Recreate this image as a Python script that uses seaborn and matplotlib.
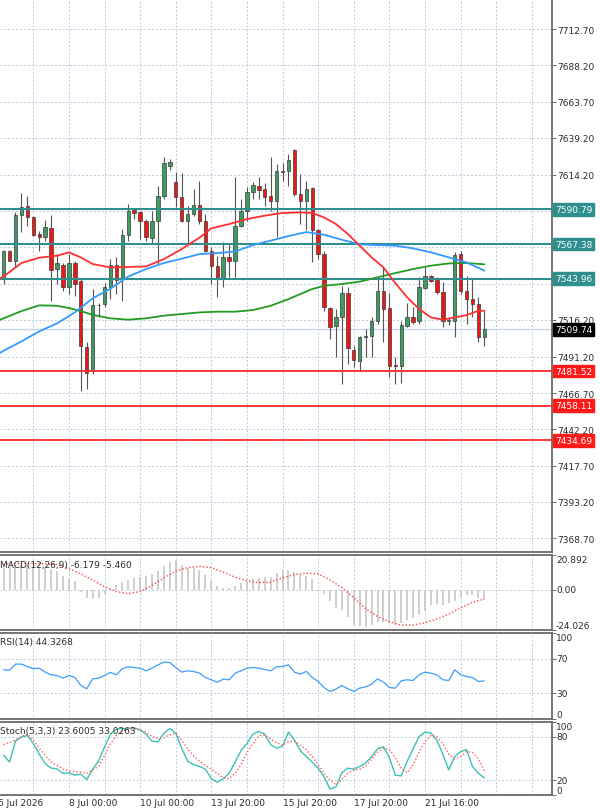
import numpy as np
import seaborn as sns
import matplotlib.pyplot as plt
from matplotlib.transforms import blended_transform_factory

sns.set_style('white')
plt.rcParams['font.family'] = ['DejaVu Sans']

# ---- candle data (4h bars, index 0 = first visible bar) ----
open_ = [7544.4, 7562.9, 7556.1, 7587.2, 7593.3, 7585.9, 7574.2, 7571.9, 7578.2, 7550.5,
         7553.4, 7538.6, 7554.3, 7542.2, 7498.0, 7481.8, 7526.0, 7526.9, 7538.6, 7553.0,
         7543.8, 7573.7, 7590.4, 7588.8, 7583.2, 7571.5, 7583.2, 7600.1, 7620.4, 7609.5,
         7599.0, 7582.7, 7587.7, 7594.0, 7582.7, 7562.4, 7552.8, 7543.8, 7558.4, 7555.7,
         7579.8, 7589.9, 7602.3, 7606.8, 7604.6, 7600.1, 7596.2, 7617.0, 7616.5, 7630.9,
         7601.2, 7596.7, 7605.3, 7576.9, 7560.6, 7524.2, 7512.2, 7518.3, 7534.1, 7496.0,
         7488.6, 7504.3, 7505.5, 7515.6, 7535.4, 7523.9, 7485.6, 7484.7, 7512.2, 7517.8,
         7515.1, 7537.7, 7545.6, 7543.1, 7535.2, 7515.6, 7515.6, 7560.6, 7535.9, 7530.2,
         7526.9, 7504.8]
high = [7563.3, 7563.3, 7588.8, 7601.9, 7600.1, 7586.6, 7576.4, 7583.6, 7587.2, 7560.6,
        7554.3, 7560.6, 7556.1, 7543.8, 7500.9, 7536.8, 7527.8, 7540.8, 7557.3, 7558.4,
        7577.5, 7594.4, 7591.1, 7589.9, 7584.3, 7589.9, 7606.8, 7626.4, 7624.9, 7615.8,
        7615.2, 7593.3, 7604.6, 7610.2, 7587.7, 7565.2, 7559.5, 7568.5, 7567.4, 7612.5,
        7597.8, 7606.0, 7609.1, 7612.9, 7608.4, 7626.0, 7621.5, 7621.9, 7628.2, 7631.8,
        7614.7, 7610.2, 7606.2, 7577.5, 7562.9, 7524.6, 7523.5, 7539.2, 7538.1, 7498.7,
        7505.5, 7510.0, 7517.8, 7543.8, 7551.6, 7534.1, 7490.8, 7515.6, 7527.3, 7524.6,
        7544.9, 7552.1, 7546.7, 7544.9, 7541.5, 7518.0, 7561.8, 7562.4, 7546.0, 7543.8,
        7531.8, 7522.4]
low = [7540.4, 7555.7, 7551.6, 7575.3, 7579.8, 7573.0, 7562.9, 7569.7, 7529.1, 7540.4,
       7535.9, 7533.6, 7532.5, 7468.3, 7469.4, 7479.5, 7517.8, 7524.6, 7530.2, 7533.6,
       7529.1, 7569.7, 7584.3, 7570.8, 7569.2, 7567.4, 7553.9, 7597.8, 7617.4, 7592.4,
       7582.0, 7567.4, 7586.6, 7580.9, 7561.8, 7540.4, 7531.4, 7538.1, 7544.9, 7544.9,
       7578.7, 7583.0, 7597.8, 7597.8, 7593.3, 7589.9, 7571.9, 7610.2, 7606.8, 7600.1,
       7580.9, 7576.9, 7555.0, 7557.3, 7522.4, 7503.2, 7490.8, 7472.8, 7486.3, 7484.5,
       7481.8, 7490.8, 7490.8, 7513.3, 7500.9, 7477.3, 7472.8, 7473.2, 7511.1, 7513.3,
       7513.3, 7537.0, 7541.5, 7533.6, 7511.1, 7513.0, 7504.8, 7533.6, 7513.3, 7517.8,
       7500.9, 7498.7]
close = [7562.4, 7556.1, 7587.2, 7592.2, 7585.9, 7573.7, 7571.9, 7579.1, 7550.1, 7554.3,
         7538.1, 7554.3, 7540.4, 7498.7, 7480.4, 7526.4, 7526.4, 7538.6, 7553.4, 7543.1,
         7573.7, 7589.9, 7588.6, 7582.7, 7571.9, 7582.7, 7600.1, 7621.9, 7622.6, 7599.0,
         7582.7, 7587.7, 7594.0, 7582.7, 7562.9, 7552.8, 7543.8, 7558.8, 7555.7, 7579.8,
         7589.9, 7602.3, 7607.5, 7603.9, 7599.4, 7596.2, 7617.0, 7615.8, 7624.2, 7601.2,
         7596.7, 7604.6, 7576.9, 7560.6, 7524.6, 7511.1, 7518.3, 7534.1, 7497.1, 7489.0,
         7504.3, 7505.5, 7515.6, 7535.4, 7523.5, 7485.2, 7484.7, 7512.7, 7517.8, 7514.5,
         7538.1, 7545.6, 7542.6, 7534.7, 7515.6, 7516.0, 7560.0, 7535.9, 7530.2, 7526.9,
         7504.3, 7509.74]

# ---- moving averages ----
ma_red_bars = [-1, 0, 3, 6, 9, 11, 13, 15, 18, 21, 24, 27, 30, 33, 35, 38, 41, 44, 47, 50,
               52, 54, 56, 58, 60, 62, 64, 66, 68, 70, 72, 74, 76, 78, 80, 81]
ma_red = [7543.5, 7545.5, 7554.6, 7558.2, 7559.5, 7561.8, 7558.4, 7553.9, 7551.6, 7551.9,
          7552.3, 7557.2, 7564.0, 7571.7, 7578.0, 7580.9, 7584.3, 7586.6, 7588.4, 7588.8,
          7588.4, 7585.4, 7580.9, 7574.2, 7566.3, 7558.4, 7551.6, 7541.0, 7531.4, 7523.5,
          7517.8, 7516.3, 7517.8, 7519.4, 7522.3, 7522.3]
ma_blue_bars = [-1, 0, 3, 6, 9, 12, 15, 18, 21, 24, 27, 30, 33, 36, 39, 42, 45, 48, 51, 54,
                57, 60, 63, 66, 69, 72, 75, 78, 81]
ma_blue = [7493.0, 7495.3, 7501.6, 7508.4, 7513.8, 7521.2, 7530.7, 7537.2, 7545.5, 7550.5,
           7554.6, 7557.5, 7560.6, 7561.3, 7562.4, 7566.7, 7569.7, 7572.8, 7575.5, 7573.7,
           7570.3, 7567.2, 7566.7, 7566.3, 7564.5, 7561.8, 7558.4, 7555.0, 7549.4]
ma_green_bars = [-1, 0, 3, 6, 9, 11, 13, 15, 18, 21, 24, 27, 30, 33, 36, 39, 42, 45, 48, 50,
                 52, 54, 57, 60, 63, 66, 69, 72, 75, 78, 81]
ma_green = [7515.6, 7517.2, 7522.1, 7526.0, 7525.7, 7524.2, 7522.1, 7519.6, 7517.2, 7516.3,
            7517.2, 7519.0, 7520.1, 7521.2, 7521.7, 7521.7, 7522.8, 7525.7, 7530.2, 7533.6,
            7537.0, 7539.2, 7540.4, 7542.0, 7544.9, 7547.8, 7550.5, 7552.8, 7554.3, 7554.6,
            7553.7]

# ---- horizontal levels ----
resistance = [7590.79, 7567.38, 7543.96]
support = [7481.52, 7458.11, 7434.69]
last_price = 7509.74
price_ticks = [7712.70, 7688.20, 7663.70, 7639.20, 7614.20, 7589.70, 7565.20, 7540.70,
               7516.20, 7491.20, 7466.70, 7442.20, 7417.70, 7393.20, 7368.70]
# tick labels that sit under a level box are not printed
hidden_ticks = [7589.70, 7565.20, 7540.70]

# ---- MACD(12,26,9) ----
macd_hist = [13.7, 13.7, 14.8, 14.8, 14.8, 14.0, 13.7, 13.3, 12.7, 11.3,
             8.6, 6.6, 5.1, -1.5, -4.7, -5.7, -5.1, -2.7, 1.4, 3.1,
             4.5, 5.9, 7.2, 8.0, 8.6, 9.6, 11.3, 14.1, 16.8, 17.8,
             14.8, 13.3, 13.3, 12.1, 9.2, 5.5, 2.5, 1.4, 1.0, 2.5,
             3.9, 5.5, 6.6, 7.2, 7.6, 8.0, 10.0, 12.1, 12.1, 10.7,
             9.2, 8.6, 6.6, -0.5, -2.3, -6.8, -10.9, -11.9, -16.0, -21.1,
             -21.7, -22.1, -21.1, -19.1, -19.1, -20.1, -21.1, -20.1, -18.0, -17.0,
             -15.0, -12.9, -8.8, -8.4, -8.8, -7.8, -6.8, -4.3, -3.1, -3.1,
             -4.7, -6.179]
macd_sig_bars = [0, 3, 6, 9, 11, 13, 15, 17, 19, 21, 23, 25, 27, 29, 31, 33, 35, 37, 39, 41,
                 43, 45, 47, 49, 51, 53, 55, 57, 59, 61, 63, 65, 67, 69, 71, 73, 75, 77, 79, 81]
macd_sig = [15.4, 15.8, 15.8, 15.2, 12.7, 9.6, 5.9, 1.8, -1.0, -2.3, -1.0, 2.5, 7.2, 11.3,
            13.3, 14.1, 13.3, 10.7, 7.6, 5.5, 4.3, 4.7, 7.2, 9.2, 10.0, 9.6, 5.9, 1.4, -4.7,
            -11.3, -16.0, -19.1, -21.1, -21.1, -19.7, -17.4, -14.6, -10.9, -7.4, -5.46]

# ---- RSI(14) ----
rsi = [57.2, 56.8, 63.8, 63.8, 61.1, 58.4, 59.1, 54.5, 51.4, 50.6,
       47.5, 50.6, 48.3, 39.0, 35.1, 46.7, 47.5, 50.6, 54.1, 51.4,
       58.4, 60.7, 59.9, 59.1, 56.0, 59.1, 63.0, 66.1, 65.7, 59.9,
       54.5, 56.0, 55.3, 53.3, 48.3, 45.6, 42.8, 46.3, 45.6, 53.3,
       56.0, 59.1, 59.9, 59.1, 57.6, 56.0, 60.7, 61.1, 63.0, 54.5,
       52.2, 55.3, 48.3, 43.6, 36.6, 32.0, 34.7, 39.0, 35.1, 32.0,
       35.9, 37.4, 40.5, 46.7, 42.8, 36.6, 35.9, 44.4, 45.6, 44.8,
       51.4, 54.5, 53.3, 51.4, 45.6, 44.8, 57.2, 51.4, 49.4, 48.3,
       43.6, 44.3268]

# ---- Stochastic(5,3,3) ----
stoch_k = [54.6, 45.0, 73.8, 79.5, 81.4, 70.4, 56.0, 43.0, 36.8, 35.8,
           29.6, 30.6, 27.2, 28.6, 21.0, 35.4, 46.4, 65.6, 83.4, 90.1,
           91.0, 90.6, 92.0, 89.1, 83.4, 73.8, 72.8, 84.8, 91.0, 84.8,
           64.2, 46.4, 41.6, 39.2, 35.4, 22.4, 17.6, 22.4, 29.6, 45.0,
           60.8, 70.4, 83.4, 87.2, 83.4, 69.0, 64.2, 67.0, 86.2, 75.2,
           60.8, 52.6, 45.0, 36.8, 24.8, 8.0, 11.4, 30.6, 36.8, 35.4,
           39.2, 44.0, 52.6, 63.2, 66.1, 51.2, 27.2, 26.2, 46.4, 63.2,
           80.0, 86.2, 84.8, 75.2, 56.0, 34.4, 52.6, 59.4, 62.2, 39.2,
           29.6, 23.6005]
stoch_d = [69.0, 71.8, 75.2, 80.0, 83.4, 75.2, 64.2, 54.6, 45.0, 40.2,
           35.4, 33.4, 32.0, 31.0, 29.6, 34.4, 39.2, 53.6, 70.4, 81.4,
           88.2, 90.1, 91.0, 89.1, 86.2, 80.0, 77.6, 78.6, 82.4, 84.8,
           75.2, 63.2, 53.6, 46.4, 40.2, 35.4, 29.6, 23.8, 22.4, 29.6,
           41.6, 58.4, 70.4, 81.4, 82.4, 76.6, 71.8, 68.0, 72.8, 73.8,
           68.0, 62.2, 52.6, 41.6, 29.6, 20.0, 14.2, 21.0, 29.6, 34.4,
           35.4, 40.2, 48.8, 58.4, 64.2, 62.2, 51.2, 36.8, 30.6, 41.6,
           58.4, 72.8, 81.4, 80.0, 70.4, 56.0, 49.8, 52.6, 59.4, 58.4,
           49.8, 33.0263]

# ---- time axis ----
time_tick_bars = [-1, 11, 23, 35, 47, 59, 71]
time_tick_labels = ['6 Jul 2026', '8 Jul 00:00', '10 Jul 00:00', '13 Jul 20:00',
                    '15 Jul 20:00', '17 Jul 20:00', '21 Jul 16:00']

bars = np.arange(len(close))
o, h, l, c = map(np.array, (open_, high, low, close))

GRID = '#bccbe3'
TXT = '#2b2b2b'
TEAL = '#2f8f8f'
LEVEL_RED = '#ff2a2a'
FS = 6.5

fig = plt.figure(figsize=(6, 8.12), dpi=100)
W = 552 / 600


def px_axes(top, bottom):
    return fig.add_axes([0, 1 - bottom / 812, W, (bottom - top) / 812])


ax = px_axes(0, 553)
ax_macd = px_axes(556, 631)
ax_rsi = px_axes(634, 720)
ax_st = px_axes(723, 796)

for a in (ax, ax_macd, ax_rsi, ax_st):
    a.set_xlim(-0.61, 92.4)
    a.set_xticks([])
    a.set_xlabel('')
    a.set_ylabel('')
    a.spines['left'].set_visible(False)
    for s in ('top', 'bottom', 'right'):
        a.spines[s].set_color('#6a6a6a')
        a.spines[s].set_linewidth(1.3)
    for gx in np.arange(5, 93, 6):
        a.axvline(gx, color=GRID, lw=0.7, ls=(0, (2, 2)), zorder=0)
    a.yaxis.tick_right()
    a.tick_params(axis='y', direction='out', length=3, width=0.6, colors='#555555',
                  labelsize=FS, labelcolor=TXT, pad=1)
ax.spines['top'].set_visible(False)

# ---- main price panel ----
ax.set_ylim(7359.3, 7733.0)
ax.set_yticks(price_ticks)
ax.set_yticklabels(['' if t in hidden_ticks else f'{t:.2f}' for t in price_ticks])
for t in price_ticks:
    ax.axhline(t, color=GRID, lw=0.7, ls=(0, (2, 2)), zorder=0)

ax.axhline(last_price, color='#c9d6ea', lw=1.0, zorder=1)

body_col = np.where(c >= o, '#3d9c62', '#ee1717')
ax.vlines(bars, l, h, color='#555555', lw=0.8, zorder=2)
ax.bar(bars, np.maximum(np.abs(c - o), 0.5), bottom=np.minimum(o, c), width=0.58,
       color=body_col, edgecolor='#3a3a3a', linewidth=0.5, zorder=3)

for lv in resistance:
    ax.axhline(lv, color=TEAL, lw=1.5, zorder=4)
for lv in support:
    ax.axhline(lv, color=LEVEL_RED, lw=1.3, zorder=4)

sns.lineplot(x=ma_green_bars, y=ma_green, ax=ax, color='#239b23', lw=1.3,
             estimator=None, sort=False, zorder=5)
sns.lineplot(x=ma_blue_bars, y=ma_blue, ax=ax, color='#3399ff', lw=1.3,
             estimator=None, sort=False, zorder=5)
sns.lineplot(x=ma_red_bars, y=ma_red, ax=ax, color='#ff3030', lw=1.3,
             estimator=None, sort=False, zorder=5)

tr = blended_transform_factory(ax.transAxes, ax.transData)
box_x = 1 + 3 / 552
for lv in resistance:
    ax.text(box_x, lv, f'{lv:.2f}', transform=tr, ha='left', va='center', fontsize=FS,
            color='white', zorder=10, clip_on=False,
            bbox=dict(boxstyle='square,pad=0.2', fc=TEAL, ec=TEAL))
for lv in support:
    ax.text(box_x, lv, f'{lv:.2f}', transform=tr, ha='left', va='center', fontsize=FS,
            color='white', zorder=10, clip_on=False,
            bbox=dict(boxstyle='square,pad=0.2', fc='#ff1a1a', ec='#ff1a1a'))
ax.text(box_x, last_price, f'{last_price:.2f}', transform=tr, ha='left', va='center',
        fontsize=FS, color='white', zorder=10, clip_on=False,
        bbox=dict(boxstyle='square,pad=0.2', fc='black', ec='black'))


def side_labels(a, vals, texts):
    a.set_yticks(vals)
    a.set_yticklabels([])
    t = blended_transform_factory(a.transAxes, a.transData)
    lo, hi = a.get_ylim()
    for v, s in zip(vals, texts):
        va = 'top' if v >= hi - 1e-6 else ('bottom' if v <= lo + 1e-6 else 'center')
        a.text(1 + 4 / 552, v, s, transform=t, ha='left', va=va, fontsize=FS,
               color=TXT, clip_on=False)


# ---- MACD ----
macd_hi, macd_lo = 20.892, -24.026
ax_macd.set_ylim(macd_lo, macd_hi)
ax_macd.axhline(0, color=GRID, lw=0.7, ls=(0, (2, 2)), zorder=0)
ax_macd.vlines(bars, 0, macd_hist, color='#c2c2c2', lw=1.1, zorder=2)
sns.lineplot(x=macd_sig_bars, y=macd_sig, ax=ax_macd, color='#ff4a4a', lw=1.0,
             ls=(0, (1, 1.5)), estimator=None, sort=False, zorder=3)
side_labels(ax_macd, [macd_hi, 0, macd_lo], ['20.892', '0.00', '-24.026'])
ax_macd.text(0.0, 0.93, 'MACD(12,26,9) -6.179 -5.460', transform=ax_macd.transAxes,
             ha='left', va='top', fontsize=FS, color=TXT, zorder=6)

# ---- RSI ----
ax_rsi.set_ylim(0, 100)
for lv in (70, 30):
    ax_rsi.axhline(lv, color=GRID, lw=0.7, ls=(0, (2, 2)), zorder=0)
sns.lineplot(x=bars, y=rsi, ax=ax_rsi, color='#3d9dff', lw=0.9,
             estimator=None, sort=False, zorder=3)
side_labels(ax_rsi, [100, 70, 30, 0], ['100', '70', '30', '0'])
ax_rsi.text(0.0, 0.95, 'RSI(14) 44.3268', transform=ax_rsi.transAxes,
            ha='left', va='top', fontsize=FS, color=TXT, zorder=6)

# ---- Stochastic ----
ax_st.set_ylim(0, 100)
for lv in (80, 20):
    ax_st.axhline(lv, color=GRID, lw=0.7, ls=(0, (2, 2)), zorder=0)
sns.lineplot(x=bars, y=stoch_k, ax=ax_st, color='#3cc2b8', lw=1.0,
             estimator=None, sort=False, zorder=3)
sns.lineplot(x=bars, y=stoch_d, ax=ax_st, color='#ff5a5a', lw=1.0,
             ls=(0, (1, 1.5)), estimator=None, sort=False, zorder=3)
side_labels(ax_st, [100, 80, 20, 0], ['100', '80', '20', '0'])
ax_st.text(0.0, 0.95, 'Stoch(5,3,3) 23.6005 33.0263', transform=ax_st.transAxes,
           ha='left', va='top', fontsize=FS, color=TXT, zorder=6)

# time labels under the last panel
tx = blended_transform_factory(ax_st.transData, ax_st.transAxes)
for b, s in zip(time_tick_bars, time_tick_labels):
    ax_st.text(b, -0.04, s, transform=tx, ha='left', va='top', fontsize=FS,
               color=TXT, clip_on=False)

for a in (ax, ax_macd, ax_rsi, ax_st):
    leg = a.get_legend()
    if leg is not None:
        leg.remove()

fig.savefig('out.png', dpi=100, facecolor='white')
